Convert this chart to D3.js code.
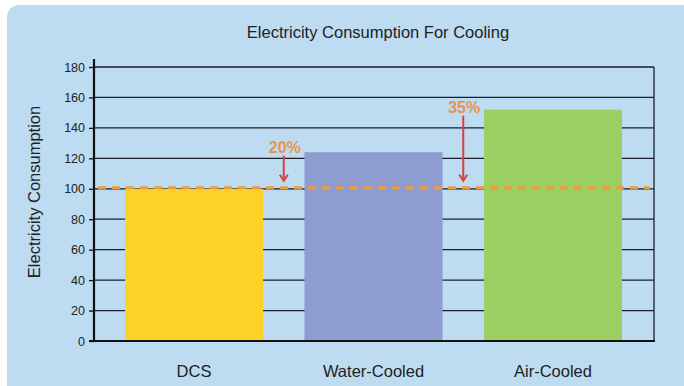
<!DOCTYPE html>
<html>
<head>
<meta charset="utf-8">
<script src="https://cdn.jsdelivr.net/npm/d3@7"></script>
<style>
  html, body { margin: 0; padding: 0; background: #ffffff; }
  svg { display: block; font-family: "Liberation Sans", Arial, sans-serif; }
</style>
</head>
<body>
<svg id="chart" width="684" height="386"></svg>
<script>
// Cooling electricity consumption by system type
const categories = ["DCS", "Water-Cooled", "Air-Cooled"];
const consumption = [100, 124, 152];
const barColors = ["#fdd227", "#8e9dcf", "#9ccf62"];
const yTicks = [0, 20, 40, 60, 80, 100, 120, 140, 160, 180];
const baseline = 100;
const savings = [
  { from: "DCS", to: "Water-Cooled", label: "20%", top: 121.7 },
  { from: "Water-Cooled", to: "Air-Cooled", label: "35%", top: 148 }
];

const svg = d3.select("#chart");
const W = 684, H = 386;

// rounded light-blue panel
svg.append("rect")
  .attr("x", 7).attr("y", 5)
  .attr("width", W + 20).attr("height", H + 20)
  .attr("rx", 12)
  .attr("fill", "#bddbf1");

const plot = { left: 94, right: 654, top: 67, bottom: 341 };

const y = d3.scaleLinear().domain([0, 180]).range([plot.bottom, plot.top]);
const x = d3.scaleBand().domain(categories)
  .range([125, 622]).paddingInner(0.231).paddingOuter(0);

// horizontal grid lines
svg.append("g")
  .selectAll("line")
  .data(yTicks.filter(d => d > 0))
  .join("line")
  .attr("x1", plot.left).attr("x2", plot.right)
  .attr("y1", d => y(d)).attr("y2", d => y(d))
  .attr("stroke", "#1a1f2e").attr("stroke-width", 1.3);

// right border
svg.append("line")
  .attr("x1", plot.right).attr("x2", plot.right)
  .attr("y1", y(180)).attr("y2", y(0))
  .attr("stroke", "#1a1f2e").attr("stroke-width", 1.3);

// bars
svg.append("g")
  .selectAll("rect")
  .data(categories)
  .join("rect")
  .attr("x", d => x(d))
  .attr("width", x.bandwidth())
  .attr("y", (d, i) => y(consumption[i]))
  .attr("height", (d, i) => y(0) - y(consumption[i]))
  .attr("fill", (d, i) => barColors[i]);

// y axis
const yAxis = svg.append("g")
  .attr("transform", `translate(${plot.left},0)`)
  .call(d3.axisLeft(y).tickValues(yTicks).tickSize(5).tickPadding(4).tickSizeOuter(0));
yAxis.select(".domain").attr("stroke", "#111").attr("stroke-width", 2.2)
  .attr("d", `M0,${plot.bottom + 1}V${plot.top - 8}`);
yAxis.selectAll(".tick line").attr("stroke", "#111").attr("stroke-width", 1.3);
yAxis.selectAll(".tick text")
  .attr("fill", "#222").style("font-size", "12.5px");

// x axis line
svg.append("line")
  .attr("x1", plot.left - 5).attr("x2", plot.right + 1)
  .attr("y1", y(0)).attr("y2", y(0))
  .attr("stroke", "#111").attr("stroke-width", 2.2);

// category labels
svg.append("g")
  .selectAll("text")
  .data(categories)
  .join("text")
  .attr("x", d => x(d) + x.bandwidth() / 2)
  .attr("y", 377)
  .attr("text-anchor", "middle")
  .attr("fill", "#222")
  .style("font-size", "16.5px")
  .text(d => d);

// baseline reference (dashed)
svg.append("line")
  .attr("x1", plot.left + 4).attr("x2", plot.right - 4)
  .attr("y1", y(baseline) - 1).attr("y2", y(baseline) - 1)
  .attr("stroke", "#f09a3a").attr("stroke-width", 3)
  .attr("stroke-dasharray", "8,6");

// arrows and savings labels
const arrowX = d => (x(d.from) + x.bandwidth() + x(d.to)) / 2;
const arrowG = svg.append("g");
savings.forEach(s => {
  const ax = arrowX(s);
  const yTop = y(s.top);
  const yEnd = y(baseline) - 8;
  arrowG.append("line")
    .attr("x1", ax).attr("x2", ax)
    .attr("y1", yTop).attr("y2", yEnd - 2)
    .attr("stroke", "#d6403a").attr("stroke-width", 2);
  arrowG.append("path")
    .attr("d", `M${ax - 4},${yEnd - 6}L${ax},${yEnd}L${ax + 4},${yEnd - 6}`)
    .attr("fill", "none")
    .attr("stroke", "#d6403a").attr("stroke-width", 2);
  arrowG.append("text")
    .attr("x", ax + 1)
    .attr("y", yTop - 3)
    .attr("text-anchor", "middle")
    .attr("fill", "#e8954a")
    .style("font-size", "16px")
    .style("font-weight", "bold")
    .text(s.label);
});

// title
svg.append("text")
  .attr("x", 378).attr("y", 38)
  .attr("text-anchor", "middle")
  .attr("fill", "#222")
  .style("font-size", "16.5px")
  .text("Electricity Consumption For Cooling");

// y axis title
svg.append("text")
  .attr("transform", `translate(40,192) rotate(-90)`)
  .attr("text-anchor", "middle")
  .attr("fill", "#222")
  .style("font-size", "16.5px")
  .text("Electricity Consumption");
</script>
</body>
</html>
